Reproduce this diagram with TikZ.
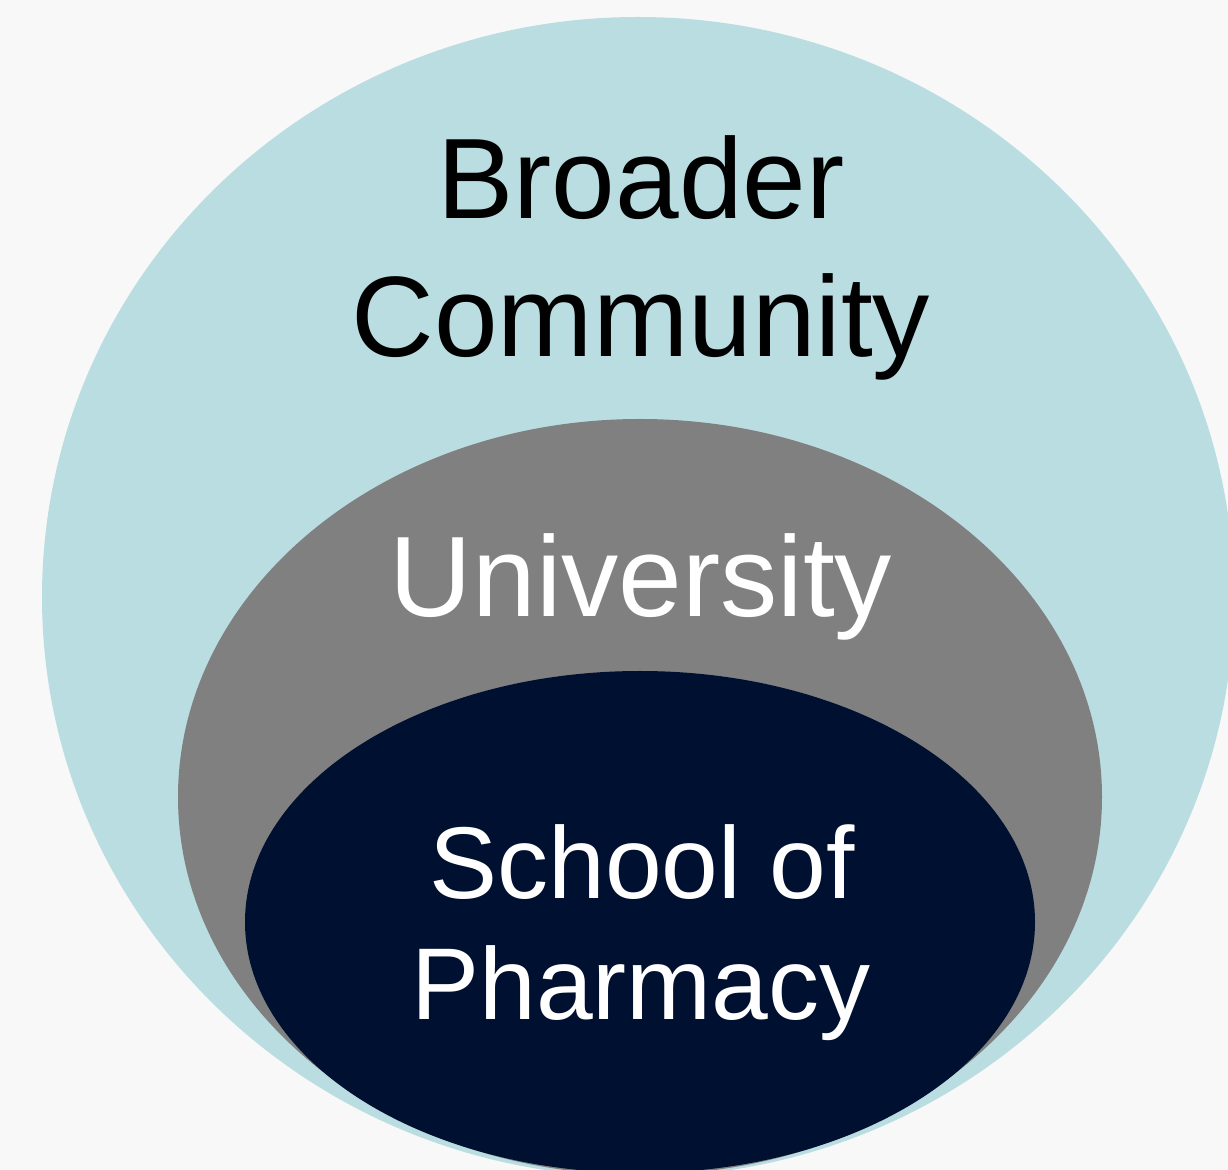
\documentclass[tikz,border=0pt]{standalone}
\usepackage{fontspec}
\setmainfont{Liberation Sans}
\definecolor{pagebg}{HTML}{F8F8F8}
\definecolor{communityblue}{HTML}{BADDE1}
\definecolor{unigray}{HTML}{808080}
\definecolor{schoolnavy}{HTML}{001030}
\begin{document}
\begin{tikzpicture}[x=0.5pt,y=-0.5pt,
  bigword/.style={inner sep=0pt, anchor=base, font=\fontsize{57.2pt}{69pt}\selectfont},
  smallword/.style={inner sep=0pt, anchor=base, font=\fontsize{51pt}{60.5pt}\selectfont}]
  % page and canvas
  \fill[pagebg] (0,0) rectangle (1228,1170);
  \useasboundingbox (0,0) rectangle (1228,1170);
  \clip (0,0) rectangle (1228,1170);
  % nested circles of the model
  \fill[communityblue] (638,597) ellipse [x radius=298pt, y radius=290pt];
  \fill[unigray] (640,797) ellipse [x radius=231pt, y radius=189pt];
  \fill[schoolnavy] (640,922) ellipse [x radius=197.5pt, y radius=125.5pt];
  % labels
  \node[bigword, text=black] (broader) at (641,219) {Broader};
  \node[bigword, text=black] (community) at (641,357) {Community};
  \node[bigword, text=white] (university) at (641,617) {University};
  \node[smallword, text=white] (schoolof) at (642,899) {School of};
  \node[smallword, text=white] (pharmacy) at (641,1020) {Pharmacy};
\end{tikzpicture}
\end{document}
